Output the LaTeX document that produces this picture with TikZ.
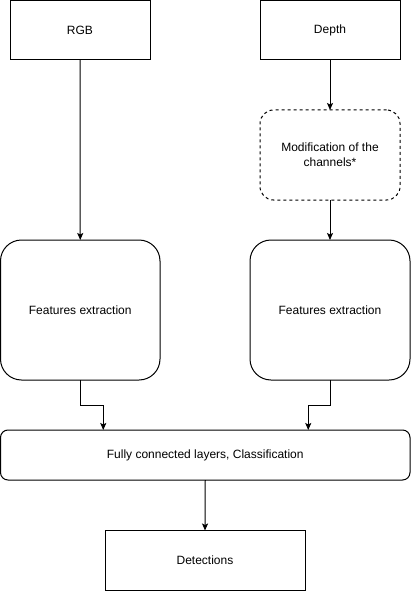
\documentclass[tikz,border=0pt]{standalone}
\usepackage{fontspec}
\setmainfont{Liberation Sans}
\usetikzlibrary{arrows.meta}
\begin{document}
\begin{tikzpicture}[x=1pt,y=-1pt,
  every node/.style={inner sep=0pt,outer sep=0pt,align=center,font=\fontsize{12}{15}\selectfont},
  box/.style={draw=black,line width=1pt,rectangle,fill=white},
  conn/.style={draw=black,line width=1pt,-{Stealth[length=7pt,width=6pt,inset=1.5pt]}},
  plain/.style={draw=black,line width=1pt}]
\useasboundingbox (0,0) rectangle (411,591);
\node[box,minimum width=140pt,minimum height=59.5pt] (rgb) at (80,30.25) {RGB};
\node[box,minimum width=140pt,minimum height=59.5pt] (depth) at (330,30.25) {Depth};
\node[box,dashed,dash pattern=on 3pt off 3pt,rounded corners=13.5pt,minimum width=140pt,minimum height=90pt] (mod) at (330,155) {Modification of the\\channels*};
\node[box,rounded corners=21pt,minimum width=159.5pt,minimum height=140pt] (fe1) at (80.25,310) {Features extraction};
\node[box,rounded corners=21pt,minimum width=160pt,minimum height=140pt] (fe2) at (330,310) {Features extraction};
\node[box,rounded corners=7.5pt,minimum width=409.5pt,minimum height=50pt] (fc) at (205.25,455) {Fully connected layers, Classification};
\node[box,minimum width=200pt,minimum height=59.5pt] (det) at (205,560.25) {Detections};
\draw[conn] (rgb.south) -- (fe1.north);
\draw[conn] (depth.south) -- (mod.north);
\draw[conn] (mod.south) -- (fe2.north);
\draw[conn] (fe1.south) -- ++(0,25) -| ([xshift=-102pt]fc.north);
\draw[conn] (fe2.south) -- ++(0,25) -| ([xshift=103pt]fc.north);
\draw[conn] (fc.south) -- (det.north);
\end{tikzpicture}
\end{document}
